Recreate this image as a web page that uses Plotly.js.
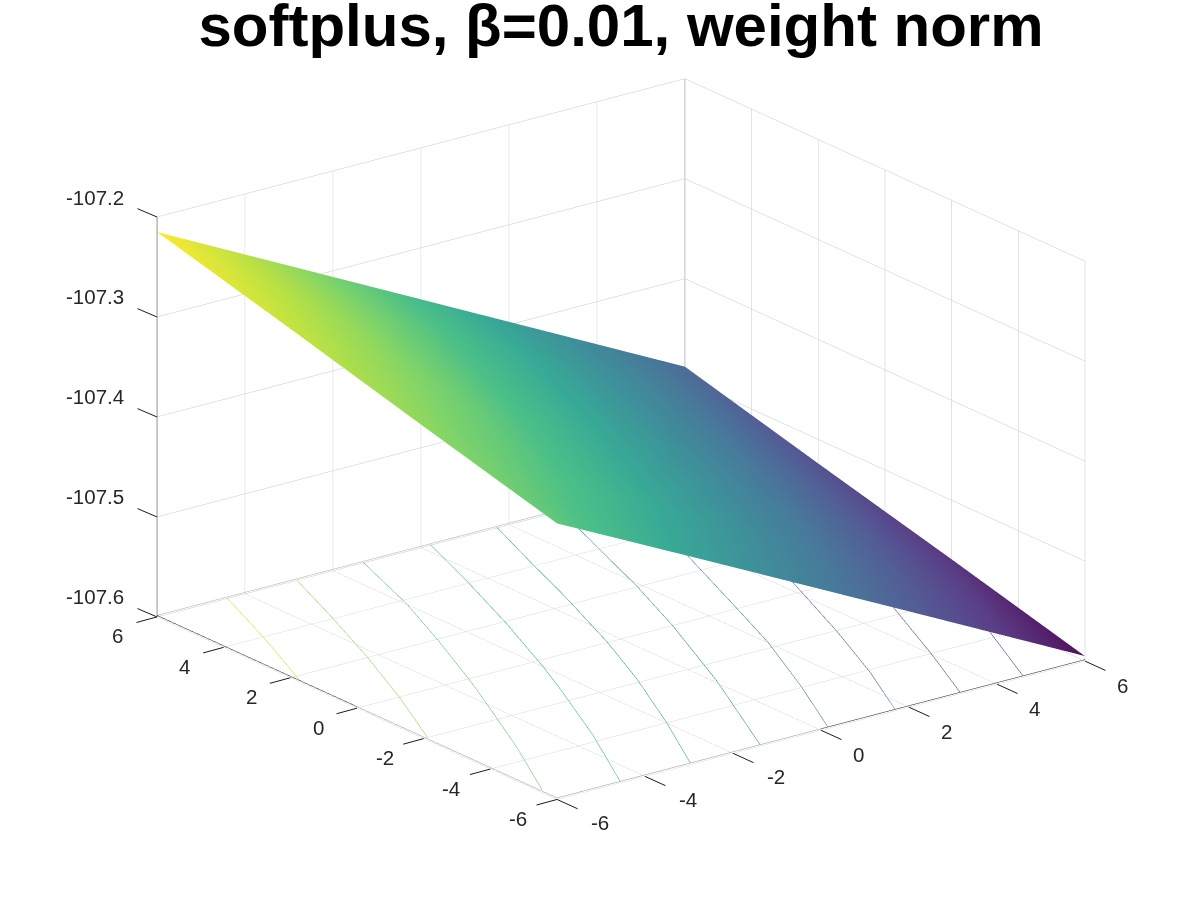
<!DOCTYPE html>
<html><head><meta charset="utf-8">
<script src="https://cdn.plot.ly/plotly-3.0.1.min.js"></script>
<style>html,body{margin:0;padding:0;background:#fff}#c{width:1200px;height:900px}</style></head>
<body><div id="c"></div>
<script>
const gridX = [-6,-4,-2,0,2,4,6];
const gridY = [-6,-4,-2,0,2,4,6];
const surfaceZ = [
 [-107.324,-107.3688,-107.4138,-107.459,-107.5042,-107.5496,-107.595],
 [-107.306,-107.3446,-107.3873,-107.4331,-107.4803,-107.5278,-107.577],
 [-107.288,-107.3258,-107.3687,-107.4138,-107.4595,-107.5079,-107.559],
 [-107.2695,-107.3064,-107.3508,-107.3952,-107.4422,-107.4898,-107.5415],
 [-107.251,-107.2898,-107.3346,-107.3794,-107.4253,-107.4726,-107.524],
 [-107.233,-107.274,-107.3185,-107.3635,-107.41,-107.456,-107.506],
 [-107.215,-107.2605,-107.306,-107.3515,-107.397,-107.4425,-107.488]
];
const contourLevels = [-107.2495,-107.284,-107.3185,-107.353,-107.3875,-107.422,-107.4565,-107.491,-107.5255,-107.56];
const contourX1 = [-4.43,-5.14,-5.99];
const contourY1 = [5.98,3.96,1.73];
const contourX2 = [-2.86,-3.56,-4.27,-5.11,-5.95];
const contourY2 = [5.95,3.94,1.99,-0.12,-2.04];
const contourX3 = [-1.34,-2.03,-2.70,-3.54,-4.07,-5.00,-5.96];
const contourY3 = [5.97,3.75,1.96,-0.14,-1.38,-3.49,-5.50];
const contourX4 = [0.19,-0.44,-1.22,-2.05,-2.50,-3.50,-4.56];
const contourY4 = [5.98,4.04,1.81,-0.37,-1.47,-3.78,-5.99];
const contourX5 = [1.69,1.04,0.58,0.35,-0.34,-1.08,-2.01,-2.97];
const contourY5 = [5.95,4.02,2.60,1.93,-0.03,-1.90,-4.00,-6.00];
const contourX6 = [3.17,2.85,1.85,1.11,0.01,-1.38];
const contourY6 = [5.93,5.06,1.96,-0.10,-2.86,-5.99];
const contourX7 = [4.69,3.66,2.63,1.97,1.06,0.16];
const contourY7 = [5.89,3.00,0.05,-1.81,-4.00,-5.99];
const contourX8 = [5.83,4.37,3.31,2.50,1.69];
const contourY8 = [5.47,0.82,-2.11,-4.17,-5.98];
const contourX9 = [6.00,5.04,3.95,3.16];
const contourY9 = [1.10,-1.33,-4.11,-6.00];
const contourX10 = [6.00,5.61,4.59];
const contourY10 = [-2.60,-3.54,-6.00];
const contourXs = [contourX1,contourX2,contourX3,contourX4,contourX5,contourX6,contourX7,contourX8,contourX9,contourX10];
const contourYs = [contourY1,contourY2,contourY3,contourY4,contourY5,contourY6,contourY7,contourY8,contourY9,contourY10];
const floorZ = -107.5985;
const xyTicks = [-6,-4,-2,0,2,4,6];
const zTicks = [-107.6,-107.5,-107.4,-107.3,-107.2];
const zTickText = ['-107.6','-107.5','-107.4','-107.3','-107.2'];
const titleText = '<b>softplus, β=0.01, weight norm</b>';
const softViridis = [[0,'#511360'],[0.111,'#5a3d85'],[0.222,'#535d96'],[0.333,'#48799a'],[0.444,'#3e909a'],[0.556,'#38a996'],[0.667,'#4bbf88'],[0.778,'#7ed36a'],[0.889,'#bde242'],[1,'#fbe831']];
const labelFont = {family:'Liberation Sans, Arial, sans-serif',size:20.5,color:'#262626'};

const traces = [{
  type:'surface', x:gridX, y:gridY, z:surfaceZ,
  colorscale:softViridis, cmin:-107.595, cmax:-107.215, showscale:false, hoverinfo:'skip',
  lighting:{ambient:1,diffuse:0,specular:0,roughness:1,fresnel:0}
}];
contourLevels.forEach((lv,i)=>{
  traces.push({type:'scatter3d',mode:'lines',x:contourXs[i],y:contourYs[i],
    z:contourXs[i].map(()=>floorZ),
    line:{width:1,color:contourXs[i].map(()=>lv),colorscale:'Viridis',cmin:-107.595,cmax:-107.215},
    showlegend:false,hoverinfo:'skip'});
});
const edge = (x,y,z,color,width)=>({type:'scatter3d',mode:'lines',x,y,z,line:{width:width||1,color},showlegend:false,hoverinfo:'skip'});
traces.push(edge([-6,6],[6,6],[floorZ,floorZ],'#a8a8a8'));
traces.push(edge([6,6],[6,6],[-107.6,-107.2],'#b8b8b8',2));
traces.push(edge([-6,-6],[6,6],[-107.6,-107.2],'#808080',2));
traces.push(edge([-6,0],[-6,-6],[floorZ,floorZ],'#9a9a9a'));
traces.push(edge([0,6],[-6,-6],[floorZ,floorZ],'#262626'));
traces.push(edge([-6,-6],[-6,0],[floorZ,floorZ],'#9a9a9a'));
traces.push(edge([-6,-6],[0,6],[floorZ,floorZ],'#262626'));

const tickNote = (x,y,z,text,dx,dy)=>({x,y,z,text,showarrow:false,xshift:dx,yshift:dy,xanchor:'center',yanchor:'middle',font:labelFont});
const tickMark = (x,y,z,ax,ay)=>({x,y,z,text:' ',showarrow:true,arrowhead:0,arrowwidth:1,arrowcolor:'#1a1a1a',standoff:0,startstandoff:0,ax,ay,font:{size:1}});
const annotations = [
  ...xyTicks.map(v=>tickMark(v,-6,-107.6,22,10)),
  ...xyTicks.map(v=>tickMark(-6,v,-107.6,-22,6)),
  ...zTicks.map(v=>tickMark(-6,6,v,-21,-9)),
  ...xyTicks.map(v=>tickNote(v,-6,-107.6,String(v),v<0?43:37,v<0?-23:-24)),
  ...xyTicks.map(v=>tickNote(-6,v,-107.6,String(v),-39,-19)),
  ...zTicks.map((v,i)=>tickNote(-6,6,v,zTickText[i],-62,20))
];
const axisCommon = {
  showgrid:true, gridcolor:'#c8c8c8', gridwidth:1, showbackground:false, zeroline:false,
  showline:false, ticks:'', showticklabels:false, showspikes:false, title:{text:''}
};
const layout = {
  width:1200,height:900,margin:{l:0,r:0,t:0,b:0},paper_bgcolor:'#fff',showlegend:false,
  title:{text:titleText,x:0.5175,xanchor:'center',y:0.972,yanchor:'middle',font:{family:'Liberation Sans, Arial, sans-serif',size:60,color:'#000'}},
  scene:{
    domain:{x:[0.035,1],y:[0.0244,1]},
    aspectmode:'manual',aspectratio:{x:1.509,y:1.509,z:0.971},
    camera:{projection:{type:'orthographic'},eye:{x:-1.705,y:-2.25,z:1.04},center:{x:0,y:0,z:0},up:{x:0,y:0,z:1}},
    annotations:annotations,
    xaxis:Object.assign({},axisCommon,{range:[-6,6],tickvals:xyTicks}),
    yaxis:Object.assign({},axisCommon,{range:[-6,6],tickvals:xyTicks}),
    zaxis:Object.assign({},axisCommon,{range:[-107.6,-107.1999],tickvals:zTicks})
  }
};
Plotly.newPlot('c',traces,layout,{displayModeBar:false});
</script></body></html>
